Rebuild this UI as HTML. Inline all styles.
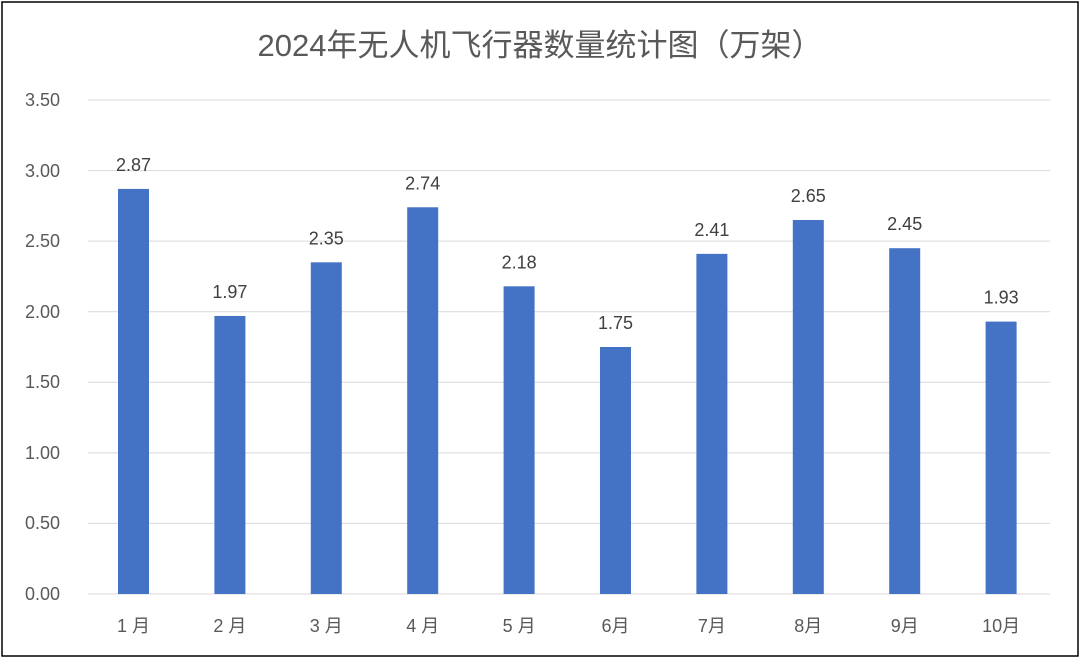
<!DOCTYPE html>
<html><head><meta charset="utf-8"><style>
html,body{margin:0;padding:0;background:#fff;}
svg{display:block;font-family:"Liberation Sans","Noto Sans CJK SC",sans-serif;}
</style></head><body>
<svg width="1080" height="658" viewBox="0 0 1080 658">
<rect x="0" y="0" width="1080" height="658" fill="#fff"/>
<rect x="2" y="2" width="1076" height="654" fill="none" stroke="#000" stroke-width="1.5"/>
<text x="540" y="56" text-anchor="middle" font-size="31" fill="#595959">2024年无人机飞行器数量统计图（万架）</text>
<g stroke="#d9d9d9" stroke-width="1">
<line x1="88" x2="1050" y1="100" y2="100"/>
<line x1="88" x2="1050" y1="170.6" y2="170.6"/>
<line x1="88" x2="1050" y1="241.1" y2="241.1"/>
<line x1="88" x2="1050" y1="311.7" y2="311.7"/>
<line x1="88" x2="1050" y1="382.3" y2="382.3"/>
<line x1="88" x2="1050" y1="452.9" y2="452.9"/>
<line x1="88" x2="1050" y1="523.4" y2="523.4"/>
<line x1="88" x2="1050" y1="594" y2="594"/>
</g>
<g font-size="18" fill="#595959" text-anchor="end">
<text x="60" y="106">3.50</text>
<text x="60" y="177">3.00</text>
<text x="60" y="247">2.50</text>
<text x="60" y="318">2.00</text>
<text x="60" y="388">1.50</text>
<text x="60" y="459">1.00</text>
<text x="60" y="529">0.50</text>
<text x="60" y="600">0.00</text>
</g>
<g fill="#4472c4" id="bars"></g>
<g id="vals" font-size="18" fill="#404040" text-anchor="middle"></g>
<g id="cats" font-size="18" fill="#595959" text-anchor="middle"></g>
<script>
var v=[2.87,1.97,2.35,2.74,2.18,1.75,2.41,2.65,2.45,1.93];
var c=["1 月","2 月","3 月","4 月","5 月","6月","7月","8月","9月","10月"];
var ns="http://www.w3.org/2000/svg",b=document.getElementById("bars"),t=document.getElementById("vals"),k=document.getElementById("cats");
for(var i=0;i<10;i++){var cx=133.5+i*96.4,y=594-v[i]*141.14;
var r=document.createElementNS(ns,"rect");r.setAttribute("x",cx-15.5);r.setAttribute("y",y);r.setAttribute("width",31);r.setAttribute("height",594-y);b.appendChild(r);
var s=document.createElementNS(ns,"text");s.setAttribute("x",cx);s.setAttribute("y",y-18);s.textContent=v[i].toFixed(2);t.appendChild(s);
var q=document.createElementNS(ns,"text");q.setAttribute("x",cx);q.setAttribute("y",632);q.textContent=c[i];k.appendChild(q);}
</script>
</svg>
</body></html>
